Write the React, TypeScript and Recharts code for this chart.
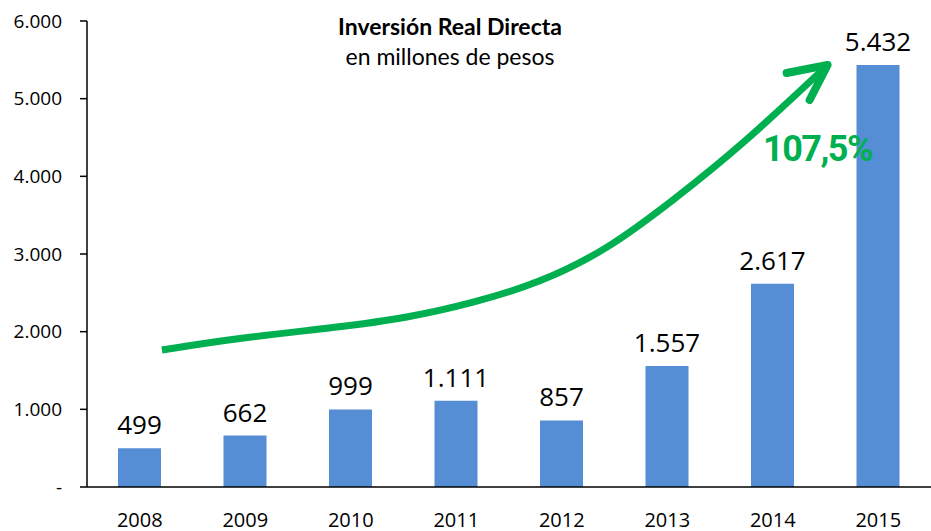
import { Bar, ComposedChart, LabelList, Line, XAxis, YAxis } from "recharts";

const years = ["2008", "2009", "2010", "2011", "2012", "2013", "2014", "2015"];
const inversion = [499, 662, 999, 1111, 857, 1557, 2617, 5432];
const yTicks = [0, 1000, 2000, 3000, 4000, 5000, 6000];

// green growth arrow (t = category position, v = value)
const arrowT = [0.71, 1.45, 2.4, 3.03, 3.66, 4.29, 4.93, 5.56, 6.19, 7.02];
const arrowV = [1764, 1920, 2060, 2176, 2369, 2627, 3052, 3696, 4378, 5433];
const boundaryTicks = [0, 1, 2, 3, 4, 5, 6, 7, 8];

const data = years.map((year, i) => ({ year, value: inversion[i] }));
const arrowData = arrowT.map((t, i) => ({ t, v: arrowV[i] }));

const GREEN = "#00B050";
const BLUE = "#558ED5";
const FONT = "'Open Sans', sans-serif";

const fmt = (n: number) =>
  n === 0 ? "-" : String(n).replace(/\B(?=(\d{3})+(?!\d))/g, ".");

function ArrowDot(props: any) {
  const { cx, cy, index } = props;
  if (index !== arrowData.length - 1) return <g key={index} />;
  return (
    <path
      key={index}
      d={`M${cx - 41},${cy + 8} L${cx},${cy} L${cx - 18},${cy + 35}`}
      stroke={GREEN}
      strokeWidth={8}
      fill="none"
      strokeLinecap="round"
      strokeLinejoin="round"
    />
  );
}

export default function App() {
  return (
    <div style={{ position: "absolute", left: 0, top: 0, width: 931, height: 531, background: "#fff" }}>
      <ComposedChart
        width={931}
        height={531}
        data={data}
        margin={{ top: 21, right: 0, bottom: 0, left: 0 }}
      >
        <XAxis
          xAxisId="b"
          dataKey="year"
          height={43}
          axisLine={false}
          tickLine={false}
          tickSize={0}
          tickMargin={25}
          tick={{ fill: "#000", fontSize: 20, fontFamily: FONT }}
        />
        <XAxis
          xAxisId="a"
          type="number"
          dataKey="t"
          domain={[0, 8]}
          ticks={boundaryTicks}
          tick={false}
          height={1}
          tickSize={7}
          axisLine={{ stroke: "#000", strokeWidth: 1.5 }}
          tickLine={{ stroke: "#000", strokeWidth: 1.5 }}
        />
        <YAxis
          width={87}
          domain={[0, 6000]}
          ticks={yTicks}
          tickFormatter={fmt}
          tickSize={7}
          tickMargin={18}
          axisLine={{ stroke: "#000", strokeWidth: 1.5 }}
          tickLine={{ stroke: "#000", strokeWidth: 1.5 }}
          tick={{ fill: "#000", fontSize: 19, fontFamily: FONT }}
        />
        <Bar xAxisId="b" dataKey="value" fill={BLUE} barSize={43} isAnimationActive={false}>
          <LabelList
            dataKey="value"
            position="top"
            offset={14}
            formatter={(v: any) => fmt(Number(v))}
            style={{ fill: "#000", fontSize: 26, fontFamily: FONT }}
          />
        </Bar>
        <Line
          xAxisId="a"
          data={arrowData}
          dataKey="v"
          type="basis"
          stroke={GREEN}
          strokeWidth={7}
          strokeLinecap="butt"
          dot={ArrowDot}
          activeDot={false}
          isAnimationActive={false}
        />
      </ComposedChart>
      <div
        style={{
          position: "absolute",
          left: 250,
          width: 400,
          top: 11,
          textAlign: "center",
          fontFamily: "Lato, sans-serif",
          fontSize: 23,
          lineHeight: "30px",
          color: "#000",
        }}
      >
        <div style={{ fontWeight: 700 }}>Inversión Real Directa</div>
        <div>en millones de pesos</div>
      </div>
      <div
        style={{
          position: "absolute",
          left: 763,
          top: 127,
          fontFamily: "Roboto, sans-serif",
          fontWeight: 700,
          fontSize: 36,
          letterSpacing: -1.5,
          lineHeight: "44px",
          color: GREEN,
        }}
      >
        107,5%
      </div>
    </div>
  );
}
